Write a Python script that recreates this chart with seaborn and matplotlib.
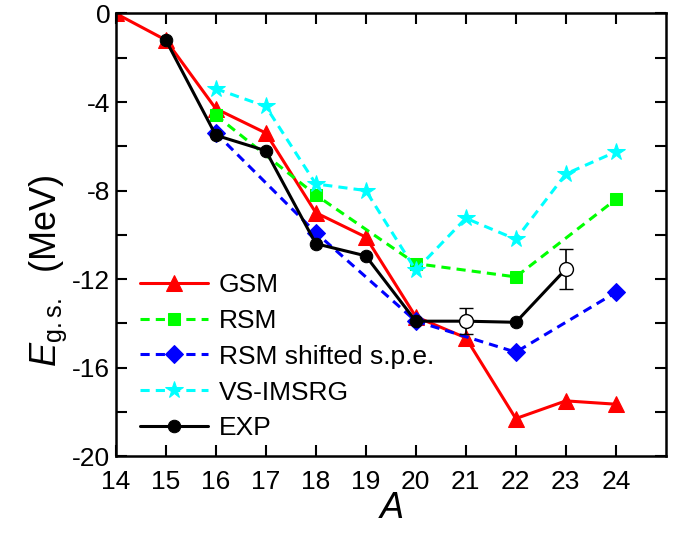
import numpy as np
import pandas as pd
import seaborn as sns
import matplotlib.pyplot as plt
from matplotlib.ticker import MultipleLocator

# mass numbers and ground-state energies (MeV)
a_gsm = [14, 15, 16, 17, 18, 19, 20, 21, 22, 23, 24]
e_gsm = [0.0, -1.2, -4.3, -5.4, -9.0, -10.1, -13.7, -14.65, -18.3, -17.5, -17.65]

a_rsm = [16, 18, 20, 22, 24]
e_rsm = [-4.6, -8.2, -11.3, -11.9, -8.4]

a_shift = [16, 18, 20, 22, 24]
e_shift = [-5.4, -9.9, -13.9, -15.3, -12.6]

a_imsrg = [16, 17, 18, 19, 20, 21, 22, 23, 24]
e_imsrg = [-3.4, -4.2, -7.7, -8.0, -11.6, -9.25, -10.2, -7.25, -6.25]

a_exp = [15, 16, 17, 18, 19, 20, 21, 22, 23]
e_exp = [-1.2, -5.5, -6.2, -10.4, -10.95, -13.9, -13.9, -13.95, -11.55]

# extrapolated values (open symbols) with uncertainties
a_extr = [21, 23]
e_extr = [-13.9, -11.55]
err_extr = [0.6, 0.9]

sns.set_style('ticks')
plt.rcParams['font.family'] = ['Liberation Sans', 'DejaVu Sans']
plt.rcParams['mathtext.fontset'] = 'custom'
plt.rcParams['mathtext.it'] = 'Liberation Sans:italic'
plt.rcParams['mathtext.rm'] = 'Liberation Sans'
plt.rcParams['axes.unicode_minus'] = False
plt.rcParams['axes.edgecolor'] = 'black'
plt.rcParams['xtick.color'] = 'black'
plt.rcParams['ytick.color'] = 'black'
plt.rcParams['text.color'] = 'black'
plt.rcParams['axes.labelcolor'] = 'black'

fig = plt.figure(figsize=(6.85, 5.38), dpi=100)
ax = fig.add_axes([0.169, 0.152, 0.803, 0.823])

dash = (3, 2)
lw = 2.2
sns.lineplot(x=a_gsm, y=e_gsm, ax=ax, color='#ff0000', lw=lw, marker='^',
             ms=11, mec='#ff0000', label='GSM')
sns.lineplot(x=a_rsm, y=e_rsm, ax=ax, color='#00ff00', lw=lw, marker='s',
             ms=8, mec='#00ff00', label='RSM', linestyle=(0, dash))
sns.lineplot(x=a_shift, y=e_shift, ax=ax, color='#0000ff', lw=lw, marker='D',
             ms=9, mec='#0000ff', label='RSM shifted s.p.e.', linestyle=(0, dash))
sns.lineplot(x=a_imsrg, y=e_imsrg, ax=ax, color='#00ffff', lw=lw, marker='*',
             ms=13, mec='#00ffff', label='VS-IMSRG', linestyle=(0, dash))
sns.lineplot(x=a_exp, y=e_exp, ax=ax, color='black', lw=lw, marker='o',
             ms=9, mec='black', label='EXP')
ax.errorbar(a_extr, e_extr, yerr=err_extr, fmt='o', ms=10, mfc='white',
            mec='black', mew=1, ecolor='black', elinewidth=1.2, capsize=5,
            capthick=1.2, zorder=5)

ax.set_xlim(14, 25)
ax.set_ylim(-20, 0)
ax.set_xticks(np.arange(14, 25))
ax.yaxis.set_major_locator(MultipleLocator(4))
ax.yaxis.set_minor_locator(MultipleLocator(2))
ax.tick_params(which='both', direction='in', top=True, right=True,
               length=8, width=1.5, labelsize=19)
ax.tick_params(axis='x', pad=10)
ax.tick_params(axis='y', pad=4)
for s in ax.spines.values():
    s.set_linewidth(1.8)

ax.set_xlabel('$A$', fontsize=26, labelpad=-2)
ax.set_ylabel(r'$E_{\mathrm{g.s.}}$  (MeV)', fontsize=26, labelpad=2, y=0.42)

ax.legend(loc='lower left', bbox_to_anchor=(0.015, 0.0), frameon=False,
          fontsize=19, handlelength=2.6, handletextpad=0.4,
          labelspacing=0.45, borderaxespad=0.2)

plt.savefig('out.png', dpi=100)
